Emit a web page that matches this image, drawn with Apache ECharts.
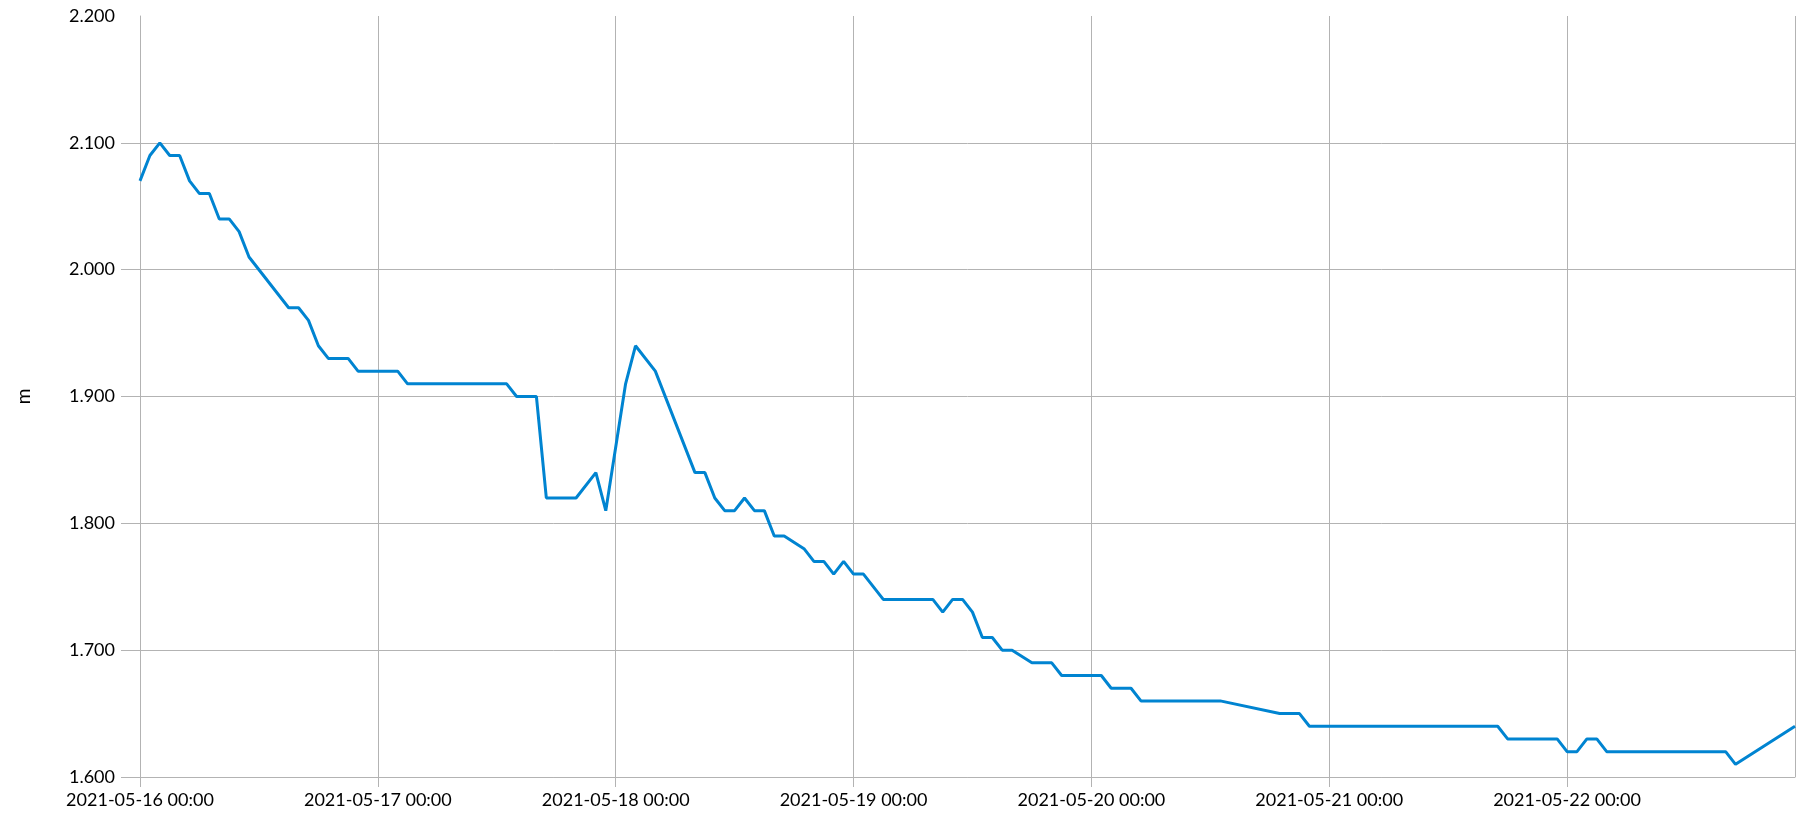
<!DOCTYPE html>
<html>
<head>
<meta charset="utf-8">
<script src="https://cdn.jsdelivr.net/npm/echarts@6/dist/echarts.min.js"></script>
<style>
  html, body { margin: 0; padding: 0; background: #fff; }
  #chart { width: 1796px; height: 816px; }
</style>
</head>
<body>
<div id="chart"></div>
<script>
// Start of the record (UTC)
var startDate = '2021-05-16T00:00:00Z';
var axisEnd = '2021-05-22T23:00:00Z';

// Hours since start, one row per day
var hourOffsets = [
  0, 1, 2, 3, 4, 5, 6, 7, 8, 9, 10, 11, 15, 16, 17, 18, 19, 20, 21, 22, 23,
  24, 25, 26, 27, 28, 29, 30, 31, 32, 33, 34, 35, 36, 37, 38, 39, 40, 41, 42, 43, 44, 46, 47,
  49, 50, 52, 56, 57, 58, 59, 60, 61, 62, 63, 64, 65, 67, 68, 69, 70, 71,
  72, 73, 75, 76, 77, 78, 79, 80, 81, 82, 83, 84, 85, 86, 87, 88, 90, 91, 92, 93, 94, 95,
  96, 97, 98, 99, 100, 101, 102, 103, 104, 105, 106, 107, 108, 109, 115, 116, 117, 118, 119,
  120, 121, 122, 123, 124, 125, 126, 127, 128, 129, 130, 131, 132, 133, 134, 135, 136, 137, 138, 139, 140, 141, 142, 143,
  144, 145, 146, 147, 148, 149, 150, 151, 152, 153, 154, 155, 156, 157, 158, 159, 160, 161, 167
];

// Water level (m), aligned with hourOffsets
var waterLevel = [
  2.07, 2.09, 2.10, 2.09, 2.09, 2.07, 2.06, 2.06, 2.04, 2.04, 2.03, 2.01, 1.97, 1.97, 1.96, 1.94, 1.93, 1.93, 1.93, 1.92, 1.92,
  1.92, 1.92, 1.92, 1.91, 1.91, 1.91, 1.91, 1.91, 1.91, 1.91, 1.91, 1.91, 1.91, 1.91, 1.90, 1.90, 1.90, 1.82, 1.82, 1.82, 1.82, 1.84, 1.81,
  1.91, 1.94, 1.92, 1.84, 1.84, 1.82, 1.81, 1.81, 1.82, 1.81, 1.81, 1.79, 1.79, 1.78, 1.77, 1.77, 1.76, 1.77,
  1.76, 1.76, 1.74, 1.74, 1.74, 1.74, 1.74, 1.74, 1.73, 1.74, 1.74, 1.73, 1.71, 1.71, 1.70, 1.70, 1.69, 1.69, 1.69, 1.68, 1.68, 1.68,
  1.68, 1.68, 1.67, 1.67, 1.67, 1.66, 1.66, 1.66, 1.66, 1.66, 1.66, 1.66, 1.66, 1.66, 1.65, 1.65, 1.65, 1.64, 1.64,
  1.64, 1.64, 1.64, 1.64, 1.64, 1.64, 1.64, 1.64, 1.64, 1.64, 1.64, 1.64, 1.64, 1.64, 1.64, 1.64, 1.64, 1.64, 1.63, 1.63, 1.63, 1.63, 1.63, 1.63,
  1.62, 1.62, 1.63, 1.63, 1.62, 1.62, 1.62, 1.62, 1.62, 1.62, 1.62, 1.62, 1.62, 1.62, 1.62, 1.62, 1.62, 1.61, 1.64
];

var yMin = 1.6, yMax = 2.2, yStep = 0.1;
// y-axis tick marks (the top gridline has no outer tick)
var yTickValues = [1.6, 1.7, 1.8, 1.9, 2.0, 2.1];
var yAxisName = 'm';

var HOUR = 3600 * 1000;
var startMs = Date.parse(startDate);
var seriesData = hourOffsets.map(function (h, i) {
  return [startMs + h * HOUR, waterLevel[i]];
});

function pad(n) { return (n < 10 ? '0' : '') + n; }
function fmtDate(v) {
  var d = new Date(v);
  return d.getUTCFullYear() + '-' + pad(d.getUTCMonth() + 1) + '-' + pad(d.getUTCDate()) +
    ' ' + pad(d.getUTCHours()) + ':' + pad(d.getUTCMinutes());
}

var gridColor = '#b3b3b3';
var font = 'Lato, "Liberation Sans", sans-serif';

var chart = echarts.init(document.getElementById('chart'), null, { renderer: 'canvas' });
chart.setOption({
  useUTC: true,
  animation: false,
  backgroundColor: '#ffffff',
  grid: { left: 140, top: 16, right: 1, bottom: 39, containLabel: false },
  xAxis: {
    type: 'time',
    min: startMs,
    max: Date.parse(axisEnd),
    minInterval: 24 * HOUR,
    maxInterval: 24 * HOUR,
    axisLine: { show: true, lineStyle: { color: gridColor, width: 1 } },
    axisTick: { show: true, length: 10, lineStyle: { color: gridColor } },
    splitLine: { show: true, lineStyle: { color: gridColor, width: 1 } },
    axisLabel: {
      formatter: function (v) { return fmtDate(v); },
      color: '#000', fontFamily: font, fontSize: 18, margin: 14,
      showMinLabel: true, showMaxLabel: false, hideOverlap: false
    }
  },
  yAxis: {
    type: 'value',
    min: yMin, max: yMax, interval: yStep,
    name: yAxisName,
    nameLocation: 'middle',
    nameRotate: 90,
    nameGap: 107,
    nameTextStyle: { color: '#000', fontFamily: font, fontSize: 19 },
    axisLine: { show: true, lineStyle: { color: gridColor, width: 1 } },
    axisTick: { show: true, length: 19, customValues: yTickValues, lineStyle: { color: gridColor } },
    splitLine: { show: true, lineStyle: { color: gridColor, width: 1 } },
    axisLabel: {
      formatter: function (v) { return v.toFixed(3); },
      color: '#000', fontFamily: font, fontSize: 18, margin: 25
    }
  },
  series: [{
    type: 'line',
    data: seriesData,
    showSymbol: false,
    symbol: 'none',
    lineStyle: { color: '#0084d1', width: 3 },
    itemStyle: { color: '#0084d1' }
  }]
});
</script>
</body>
</html>
